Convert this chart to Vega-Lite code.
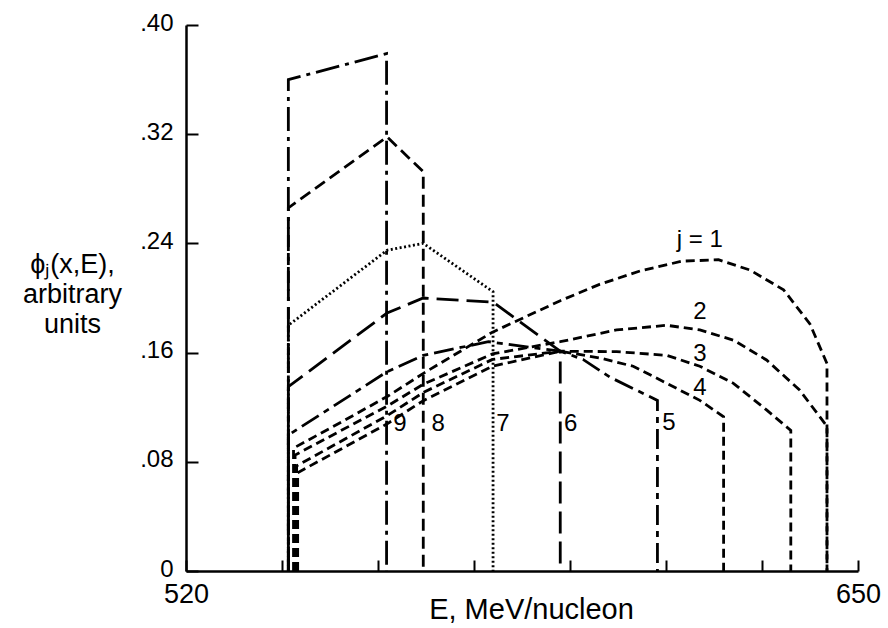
{
  "$schema": "https://vega.github.io/schema/vega-lite/v6.json",
  "width": 672,
  "height": 546,
  "autosize": {"type": "none"},
  "padding": {"left": 186, "top": 25, "right": 30, "bottom": 57},
  "background": "white",
  "config": {"view": {"stroke": null}, "font": "Liberation Sans"},
  "datasets": {
    "curves": [
      {"j": 9, "i": 0, "E": 539.8, "phi": 0},
      {"j": 9, "i": 1, "E": 539.8, "phi": 0.360},
      {"j": 9, "i": 2, "E": 558.8, "phi": 0.379},
      {"j": 9, "i": 3, "E": 558.8, "phi": 0},

      {"j": 8, "i": 0, "E": 539.8, "phi": 0},
      {"j": 8, "i": 1, "E": 539.8, "phi": 0.266},
      {"j": 8, "i": 2, "E": 558.9, "phi": 0.318},
      {"j": 8, "i": 3, "E": 565.9, "phi": 0.2925},
      {"j": 8, "i": 4, "E": 565.9, "phi": 0},

      {"j": 7, "i": 0, "E": 539.8, "phi": 0},
      {"j": 7, "i": 1, "E": 539.8, "phi": 0.180},
      {"j": 7, "i": 2, "E": 558.9, "phi": 0.235},
      {"j": 7, "i": 3, "E": 565.9, "phi": 0.240},
      {"j": 7, "i": 4, "E": 579.4, "phi": 0.2046},
      {"j": 7, "i": 5, "E": 579.4, "phi": 0},

      {"j": 6, "i": 0, "E": 539.8, "phi": 0},
      {"j": 6, "i": 1, "E": 539.8, "phi": 0.135},
      {"j": 6, "i": 2, "E": 558.9, "phi": 0.189},
      {"j": 6, "i": 3, "E": 565.9, "phi": 0.200},
      {"j": 6, "i": 4, "E": 579.4, "phi": 0.197},
      {"j": 6, "i": 5, "E": 592.4, "phi": 0.161},
      {"j": 6, "i": 6, "E": 592.4, "phi": 0},

      {"j": 5, "i": 0, "E": 539.8, "phi": 0},
      {"j": 5, "i": 1, "E": 539.8, "phi": 0.0996},
      {"j": 5, "i": 2, "E": 558.9, "phi": 0.146},
      {"j": 5, "i": 3, "E": 565.9, "phi": 0.158},
      {"j": 5, "i": 4, "E": 578.5, "phi": 0.168},
      {"j": 5, "i": 5, "E": 592.4, "phi": 0.161},
      {"j": 5, "i": 6, "E": 596.8, "phi": 0.155},
      {"j": 5, "i": 7, "E": 602.0, "phi": 0.142},
      {"j": 5, "i": 8, "E": 611.2, "phi": 0.125},
      {"j": 5, "i": 9, "E": 611.2, "phi": 0},

      {"j": 1, "i": 0, "E": 540.8, "phi": 0},
      {"j": 1, "i": 1, "E": 540.8, "phi": 0.090},
      {"j": 1, "i": 2, "E": 550.0, "phi": 0.109},
      {"j": 1, "i": 3, "E": 559.0, "phi": 0.128},
      {"j": 1, "i": 4, "E": 566.0, "phi": 0.145},
      {"j": 1, "i": 5, "E": 579.3, "phi": 0.175},
      {"j": 1, "i": 6, "E": 592.4, "phi": 0.198},
      {"j": 1, "i": 7, "E": 600.0, "phi": 0.210},
      {"j": 1, "i": 8, "E": 608.0, "phi": 0.220},
      {"j": 1, "i": 9, "E": 616.0, "phi": 0.227},
      {"j": 1, "i": 10, "E": 623.0, "phi": 0.228},
      {"j": 1, "i": 11, "E": 629.1, "phi": 0.2205},
      {"j": 1, "i": 12, "E": 635.6, "phi": 0.206},
      {"j": 1, "i": 13, "E": 640.7, "phi": 0.181},
      {"j": 1, "i": 14, "E": 644.0, "phi": 0.152},
      {"j": 1, "i": 15, "E": 644.0, "phi": 0},

      {"j": 2, "i": 0, "E": 541.1, "phi": 0},
      {"j": 2, "i": 1, "E": 541.1, "phi": 0.085},
      {"j": 2, "i": 2, "E": 559.0, "phi": 0.121},
      {"j": 2, "i": 3, "E": 566.0, "phi": 0.137},
      {"j": 2, "i": 4, "E": 579.3, "phi": 0.159},
      {"j": 2, "i": 5, "E": 592.4, "phi": 0.168},
      {"j": 2, "i": 6, "E": 603.3, "phi": 0.1766},
      {"j": 2, "i": 7, "E": 613.0, "phi": 0.180},
      {"j": 2, "i": 8, "E": 619.4, "phi": 0.1766},
      {"j": 2, "i": 9, "E": 626.0, "phi": 0.169},
      {"j": 2, "i": 10, "E": 632.3, "phi": 0.1546},
      {"j": 2, "i": 11, "E": 638.7, "phi": 0.1326},
      {"j": 2, "i": 12, "E": 644.0, "phi": 0.106},
      {"j": 2, "i": 13, "E": 644.0, "phi": 0},

      {"j": 3, "i": 0, "E": 541.4, "phi": 0},
      {"j": 3, "i": 1, "E": 541.4, "phi": 0.077},
      {"j": 3, "i": 2, "E": 559.0, "phi": 0.114},
      {"j": 3, "i": 3, "E": 566.0, "phi": 0.131},
      {"j": 3, "i": 4, "E": 579.3, "phi": 0.155},
      {"j": 3, "i": 5, "E": 592.4, "phi": 0.161},
      {"j": 3, "i": 6, "E": 603.3, "phi": 0.1607},
      {"j": 3, "i": 7, "E": 613.0, "phi": 0.158},
      {"j": 3, "i": 8, "E": 619.4, "phi": 0.150},
      {"j": 3, "i": 9, "E": 625.9, "phi": 0.1375},
      {"j": 3, "i": 10, "E": 632.3, "phi": 0.118},
      {"j": 3, "i": 11, "E": 637.0, "phi": 0.103},
      {"j": 3, "i": 12, "E": 637.0, "phi": 0},

      {"j": 4, "i": 0, "E": 541.6, "phi": 0},
      {"j": 4, "i": 1, "E": 541.6, "phi": 0.072},
      {"j": 4, "i": 2, "E": 559.0, "phi": 0.108},
      {"j": 4, "i": 3, "E": 566.0, "phi": 0.125},
      {"j": 4, "i": 4, "E": 579.3, "phi": 0.150},
      {"j": 4, "i": 5, "E": 592.4, "phi": 0.161},
      {"j": 4, "i": 6, "E": 600.1, "phi": 0.156},
      {"j": 4, "i": 7, "E": 606.5, "phi": 0.150},
      {"j": 4, "i": 8, "E": 613.0, "phi": 0.1375},
      {"j": 4, "i": 9, "E": 619.4, "phi": 0.125},
      {"j": 4, "i": 10, "E": 624.0, "phi": 0.113},
      {"j": 4, "i": 11, "E": 624.0, "phi": 0}
    ],
    "labels": [
      {"label": "j = 1", "E": 619.4, "phi": 0.2425},
      {"label": "2", "E": 619.4, "phi": 0.190},
      {"label": "3", "E": 619.4, "phi": 0.159},
      {"label": "4", "E": 619.4, "phi": 0.134},
      {"label": "5", "E": 613.4, "phi": 0.1085},
      {"label": "6", "E": 594.4, "phi": 0.1077},
      {"label": "7", "E": 581.3, "phi": 0.1077},
      {"label": "8", "E": 568.8, "phi": 0.1077},
      {"label": "9", "E": 561.4, "phi": 0.1077}
    ]
  },
  "layer": [
    {
      "data": {"name": "curves"},
      "mark": {"type": "line", "color": "black", "strokeCap": "butt"},
      "encoding": {
        "x": {
          "field": "E", "type": "quantitative",
          "scale": {"domain": [520, 650], "nice": false, "zero": false},
          "axis": {
            "values": [520, 538.5714, 557.1429, 575.7143, 594.2857, 612.8571, 631.4286, 650],
            "labelExpr": "(datum.value == 520 || datum.value == 650) ? format(datum.value, 'd') : ''",
            "grid": false,
            "labelFlush": false,
            "labelOverlap": false,
            "labelFontSize": 27,
            "labelColor": "black",
            "labelPadding": 21,
            "domainColor": "black",
            "domainWidth": 2.5,
            "tickColor": "black",
            "tickWidth": 2,
            "tickSize": -11,
            "title": "E, MeV/nucleon",
            "titleFontSize": 29,
            "titleFontWeight": "normal",
            "titleColor": "black",
            "titleBaseline": "middle",
            "titleX": 345,
            "titleY": 38
          }
        },
        "y": {
          "field": "phi", "type": "quantitative",
          "scale": {"domain": [0, 0.4], "nice": false, "zero": true},
          "axis": {
            "values": [0, 0.08, 0.16, 0.24, 0.32, 0.40],
            "labelExpr": "datum.value == 0 ? '0' : replace(format(datum.value, '.2f'), '0.', '.')",
            "grid": false,
            "labelFlush": false,
            "labelOverlap": false,
            "labelFontSize": 24,
            "labelColor": "black",
            "labelPadding": 25,
            "labelOffset": -2,
            "domainColor": "black",
            "domainWidth": 2.5,
            "tickColor": "black",
            "tickWidth": 2,
            "tickSize": -12,
            "title": ["ϕⱼ(x,E),", "arbitrary", "units"],
            "titleAngle": 0,
            "titleAlign": "center",
            "titleBaseline": "middle",
            "titleFontSize": 27,
            "titleFontWeight": "normal",
            "titleColor": "black",
            "titleLineHeight": 30,
            "titleX": -114,
            "titleY": 239
          }
        },
        "detail": {"field": "j", "type": "nominal"},
        "order": {"field": "i", "type": "quantitative"},
        "strokeDash": {
          "field": "j", "type": "nominal",
          "scale": {
            "domain": [1, 2, 3, 4, 5, 6, 7, 8, 9],
            "range": [[9, 5], [9, 5], [9, 5], [9, 5], [20, 6, 6, 6], [22, 8], [2, 2.5], [12, 6], [24, 6, 4, 6]]
          },
          "legend": null
        },
        "strokeWidth": {
          "field": "j", "type": "nominal",
          "scale": {
            "domain": [1, 2, 3, 4, 5, 6, 7, 8, 9],
            "range": [2.8, 2.8, 2.8, 2.8, 2.8, 2.8, 2.2, 2.8, 2.8]
          },
          "legend": null
        }
      }
    },
    {
      "data": {"name": "labels"},
      "mark": {"type": "text", "fontSize": 24, "font": "Liberation Sans", "align": "center", "baseline": "middle", "color": "black"},
      "encoding": {
        "x": {"field": "E", "type": "quantitative"},
        "y": {"field": "phi", "type": "quantitative"},
        "text": {"field": "label"}
      }
    }
  ]
}
